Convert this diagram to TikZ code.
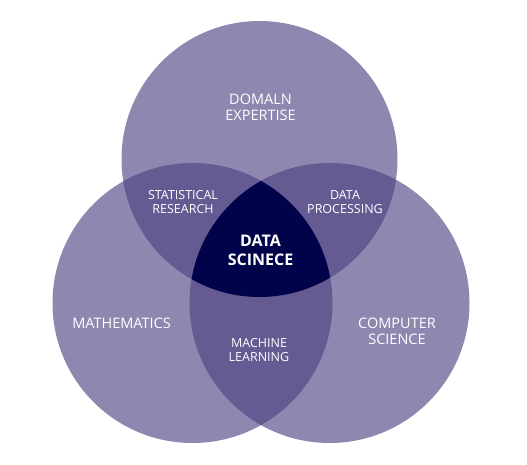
\documentclass[tikz,border=0pt]{standalone}
\usepackage{fontspec}
\setmainfont{Open Sans}
\definecolor{vennlight}{HTML}{8F87B0}
\definecolor{venndouble}{HTML}{655A92}
\definecolor{venncore}{HTML}{00034A}

\begin{document}
\begin{tikzpicture}[x=1pt,y=-1pt,
  lbl/.style={text=white,align=center,inner sep=0pt,font=\fontsize{12.5}{14}\selectfont},
  setlbl/.style={text=white,align=center,inner sep=0pt,font=\fontsize{14.5}{16}\selectfont},
  corelbl/.style={text=white,align=center,inner sep=0pt,font=\fontsize{16}{19}\selectfont\bfseries}]
\useasboundingbox (0,0) rectangle (527,464);
\coordinate (domain) at (259.5,159);
\coordinate (maths) at (192.5,303);
\coordinate (compsci) at (329.5,303);
% the three sets
\fill[vennlight] (domain) circle (138pt);
\fill[vennlight] (maths) circle (140pt);
\fill[vennlight] (compsci) circle (140pt);
% pairwise overlaps
\begin{scope}
\clip (domain) circle (138pt);
\fill[venndouble] (maths) circle (140pt);
\fill[venndouble] (compsci) circle (140pt);
\end{scope}
\begin{scope}
\clip (maths) circle (140pt);
\fill[venndouble] (compsci) circle (140pt);
\end{scope}
% all three
\begin{scope}
\clip (domain) circle (138pt);
\clip (maths) circle (140pt);
\fill[venncore] (compsci) circle (140pt);
\end{scope}
% labels
\node[setlbl] (domainlbl) at (260.5,107) {DOMALN\\EXPERTISE};
\node[setlbl] (mathslbl) at (121.5,323) {MATHEMATICS};
\node[setlbl] (compscilbl) at (397,331) {COMPUTER\\SCIENCE};
\node[lbl] (statlbl) at (183,202) {STATISTICAL\\RESEARCH};
\node[lbl] (proclbl) at (345,202) {DATA\\PROCESSING};
\node[lbl] (mllbl) at (259,350) {MACHINE\\LEARNING};
\node[corelbl] (corelbl) at (260.5,250.5) {DATA\\SCINECE};
\end{tikzpicture}
\end{document}
